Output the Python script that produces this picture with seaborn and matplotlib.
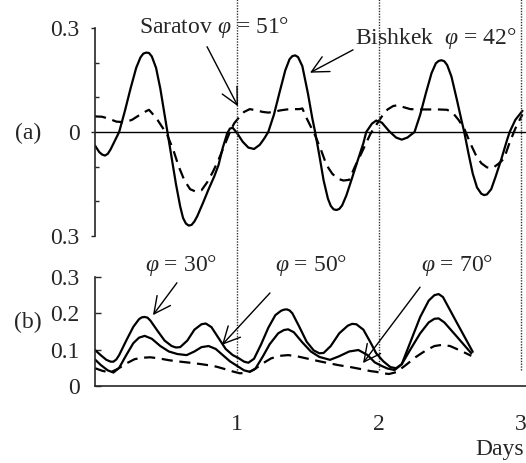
import matplotlib
matplotlib.use("Agg")
import matplotlib.pyplot as plt
import seaborn as sns
import numpy as np

# ---------------- data ----------------
# Panel (a): Bishkek (solid) and Saratov (dashed)
bishkek_days = [0.00, 0.03, 0.05, 0.07, 0.09, 0.11, 0.14, 0.17, 0.21, 0.25, 0.29, 0.32, 0.34, 0.36,
                0.38, 0.40, 0.43, 0.46, 0.49, 0.51, 0.54, 0.57, 0.60, 0.62, 0.64, 0.66, 0.68, 0.70,
                0.72, 0.76, 0.80, 0.84, 0.87, 0.90, 0.93, 0.95, 0.97, 1.00, 1.04, 1.08, 1.12, 1.16,
                1.19, 1.22, 1.26, 1.30, 1.34, 1.37, 1.39, 1.41, 1.43, 1.46, 1.50, 1.53, 1.55, 1.58,
                1.61, 1.64, 1.66, 1.68, 1.70, 1.72, 1.74, 1.77, 1.81, 1.85, 1.89, 1.91, 1.95, 1.98,
                2.02, 2.07, 2.12, 2.16, 2.20, 2.25, 2.29, 2.33, 2.37, 2.40, 2.42, 2.44, 2.46, 2.48,
                2.51, 2.55, 2.58, 2.60, 2.63, 2.66, 2.69, 2.72, 2.74, 2.76, 2.79, 2.82, 2.86, 2.90,
                2.92, 2.96, 3.01]
bishkek_vals = [-0.039, -0.058, -0.065, -0.068, -0.063, -0.050, -0.025, 0.000, 0.060, 0.125, 0.185,
                0.215, 0.226, 0.229, 0.228, 0.218, 0.185, 0.125, 0.050, 0.000, -0.075, -0.150,
                -0.215, -0.248, -0.264, -0.270, -0.268, -0.258, -0.243, -0.205, -0.165, -0.128,
                -0.095, -0.045, -0.005, 0.010, 0.012, -0.003, -0.028, -0.045, -0.049, -0.037,
                -0.020, 0.000, 0.050, 0.115, 0.178, 0.210, 0.219, 0.221, 0.216, 0.190, 0.110, 0.040,
                0.000, -0.068, -0.140, -0.192, -0.213, -0.223, -0.225, -0.222, -0.212, -0.183,
                -0.133, -0.082, -0.032, 0.000, 0.024, 0.033, 0.027, 0.003, -0.016, -0.022, -0.016,
                0.000, 0.050, 0.112, 0.170, 0.198, 0.205, 0.207, 0.204, 0.193, 0.160, 0.090, 0.035,
                0.000, -0.062, -0.120, -0.160, -0.178, -0.182, -0.180, -0.165, -0.130, -0.080,
                -0.025, 0.000, 0.035, 0.061]

saratov_days = [0.00, 0.05, 0.10, 0.15, 0.21, 0.26, 0.31, 0.36, 0.38, 0.40, 0.44, 0.48, 0.51, 0.55,
                0.59, 0.63, 0.67, 0.71, 0.75, 0.79, 0.83, 0.87, 0.91, 0.95, 0.98, 1.01, 1.05, 1.09,
                1.13, 1.18, 1.22, 1.26, 1.30, 1.35, 1.40, 1.44, 1.46, 1.49, 1.52, 1.55, 1.59, 1.63,
                1.67, 1.71, 1.75, 1.79, 1.83, 1.86, 1.90, 1.94, 1.98, 2.02, 2.06, 2.10, 2.13, 2.17,
                2.22, 2.28, 2.35, 2.42, 2.48, 2.52, 2.56, 2.60, 2.64, 2.68, 2.72, 2.76, 2.80, 2.84,
                2.88, 2.92, 2.96, 3.01]
saratov_vals = [0.045, 0.044, 0.038, 0.030, 0.028, 0.035, 0.048, 0.060, 0.064, 0.055, 0.035, 0.010,
                -0.010, -0.050, -0.100, -0.140, -0.165, -0.172, -0.168, -0.145, -0.115, -0.080,
                -0.040, 0.000, 0.025, 0.040, 0.058, 0.066, 0.063, 0.058, 0.056, 0.058, 0.062, 0.065,
                0.066, 0.066, 0.068, 0.040, 0.015, -0.010, -0.050, -0.095, -0.120, -0.135, -0.140,
                -0.138, -0.100, -0.075, -0.040, -0.005, 0.020, 0.045, 0.065, 0.075, 0.077, 0.072,
                0.066, 0.065, 0.065, 0.065, 0.064, 0.055, 0.035, 0.010, -0.030, -0.065, -0.090,
                -0.102, -0.104, -0.092, -0.077, -0.030, 0.010, 0.051]

# Panel (b): latitudes 30, 50 (solid) and 70 (dashed)
lat30_days = [0.00, 0.04, 0.08, 0.11, 0.13, 0.15, 0.17, 0.22, 0.27, 0.31, 0.33, 0.35, 0.37, 0.39,
              0.44, 0.49, 0.54, 0.57, 0.60, 0.65, 0.70, 0.75, 0.78, 0.82, 0.87, 0.92, 0.97, 1.01,
              1.05, 1.08, 1.12, 1.17, 1.22, 1.27, 1.31, 1.33, 1.35, 1.37, 1.39, 1.44, 1.49, 1.54,
              1.58, 1.61, 1.66, 1.72, 1.78, 1.81, 1.84, 1.89, 1.94, 1.98, 2.03, 2.08, 2.12, 2.16,
              2.22, 2.29, 2.35, 2.39, 2.42, 2.45, 2.54, 2.66]
lat30_vals = [0.099, 0.085, 0.072, 0.067, 0.067, 0.073, 0.085, 0.125, 0.163, 0.184, 0.189, 0.190,
              0.188, 0.180, 0.152, 0.125, 0.110, 0.106, 0.107, 0.125, 0.155, 0.170, 0.172, 0.162,
              0.132, 0.102, 0.085, 0.077, 0.067, 0.064, 0.075, 0.115, 0.160, 0.195, 0.207, 0.210,
              0.211, 0.208, 0.200, 0.162, 0.122, 0.098, 0.090, 0.091, 0.110, 0.145, 0.166, 0.171,
              0.170, 0.155, 0.120, 0.090, 0.068, 0.052, 0.049, 0.060, 0.120, 0.190, 0.235, 0.250,
              0.253, 0.245, 0.180, 0.094]

lat50_days = [0.00, 0.04, 0.09, 0.13, 0.17, 0.22, 0.27, 0.31, 0.35, 0.40, 0.46, 0.52, 0.58, 0.645,
              0.70, 0.75, 0.80, 0.85, 0.90, 0.95, 1.01, 1.05, 1.09, 1.13, 1.18, 1.23, 1.29, 1.33,
              1.36, 1.40, 1.46, 1.52, 1.58, 1.655, 1.72, 1.79, 1.855, 1.92, 1.97, 2.02, 2.06, 2.11,
              2.16, 2.22, 2.29, 2.35, 2.39, 2.42, 2.46, 2.55, 2.65]
lat50_vals = [0.073, 0.058, 0.043, 0.037, 0.050, 0.085, 0.118, 0.133, 0.138, 0.130, 0.110, 0.095,
              0.088, 0.085, 0.095, 0.107, 0.110, 0.102, 0.085, 0.068, 0.053, 0.043, 0.039, 0.048,
              0.080, 0.115, 0.145, 0.154, 0.156, 0.148, 0.120, 0.095, 0.080, 0.072, 0.082, 0.095,
              0.099, 0.085, 0.065, 0.055, 0.048, 0.044, 0.060, 0.100, 0.145, 0.175, 0.185, 0.186,
              0.175, 0.135, 0.090]

lat70_days = [0.00, 0.05, 0.105, 0.16, 0.22, 0.28, 0.34, 0.39, 0.45, 0.52, 0.60, 0.67, 0.75, 0.82,
              0.857, 0.92, 0.97, 1.02, 1.07, 1.12, 1.18, 1.24, 1.30, 1.36, 1.42, 1.50, 1.58, 1.655,
              1.72, 1.80, 1.88, 1.94, 1.98, 2.03, 2.07, 2.12, 2.18, 2.26, 2.33, 2.39, 2.44, 2.50,
              2.57, 2.65]
lat70_vals = [0.049, 0.042, 0.037, 0.047, 0.062, 0.074, 0.078, 0.079, 0.076, 0.071, 0.067, 0.064,
              0.060, 0.056, 0.053, 0.046, 0.040, 0.035, 0.036, 0.045, 0.062, 0.076, 0.083, 0.085,
              0.082, 0.075, 0.068, 0.062, 0.057, 0.052, 0.046, 0.041, 0.039, 0.035, 0.033, 0.038,
              0.055, 0.080, 0.098, 0.110, 0.113, 0.110, 0.098, 0.083]

day_lines = [1, 2, 3]
a_ticks = [-0.3, 0.0, 0.3]
a_ticklabels = ["0.3", "0", "0.3"]
b_ticks = [0.0, 0.1, 0.2, 0.3]
b_ticklabels = ["0", "0.1", "0.2", "0.3"]
x_ticklabels = ["1", "2", "3"]

# ---------------- style ----------------
sns.set_style("ticks")
plt.rcParams["font.family"] = ["Liberation Serif", "DejaVu Serif"]
plt.rcParams["mathtext.fontset"] = "custom"
plt.rcParams["mathtext.rm"] = "Liberation Serif"
plt.rcParams["mathtext.it"] = "Liberation Serif:italic"
FS = 17

fig = plt.figure(figsize=(5.26, 4.63), dpi=100)
W, H = 526.0, 463.0
XMAX = 3.035

axA = fig.add_axes([95 / W, (H - 236) / H, (W - 95) / W, 208 / H])
axB = fig.add_axes([95 / W, (H - 386) / H, (W - 95) / W, 109 / H])
for ax in (axA, axB):
    ax.set_facecolor("none")
    ax.set_xlim(0, XMAX)

LW = 1.6
DASH = (0, (5, 3))
line_kw = dict(color="black", lw=LW, estimator=None, sort=False,
               solid_joinstyle="round", dash_joinstyle="round", solid_capstyle="round")

# ---- panel (a)
sns.lineplot(x=bishkek_days, y=bishkek_vals, ax=axA, **line_kw)
sns.lineplot(x=saratov_days, y=saratov_vals, ax=axA, linestyle=DASH, **line_kw)
axA.axhline(0, color="black", lw=1.0)
axA.set_ylim(-0.3, 0.3)
for s in ("top", "right", "bottom"):
    axA.spines[s].set_visible(False)
axA.spines["left"].set_linewidth(1.2)
axA.set_xticks([])
axA.set_yticks(a_ticks)
axA.set_yticklabels(a_ticklabels, fontsize=FS)
axA.set_yticks(np.arange(-0.3, 0.31, 0.1), minor=True)
axA.tick_params(axis="y", which="both", direction="out", length=3, width=1.0, pad=8)
axA.tick_params(axis="y", which="minor", direction="in", length=3)

# dotted day separators spanning both panels
for d in day_lines:
    axA.axvline(d, ymin=-0.645, ymax=1.14, color="#333333", lw=1.0, linestyle=(0, (1, 1)),
                clip_on=False)

arrow = dict(arrowstyle="->,head_length=0.6,head_width=0.3", mutation_scale=20, lw=1.0,
             color="black", shrinkA=0, shrinkB=0)
axA.annotate("", xy=(1.007, 0.074), xytext=(0.789, 0.246), arrowprops=arrow, annotation_clip=False)
axA.text(0.31, 0.30, r"Saratov $\varphi$ = 51°", fontsize=FS, ha="left", va="center")
axA.annotate("", xy=(1.514, 0.171), xytext=(1.817, 0.237), arrowprops=arrow, annotation_clip=False)
axA.text(1.83, 0.271, r"Bishkek  $\varphi$ = 42°", fontsize=FS, ha="left", va="center")

# ---- panel (b)
sns.lineplot(x=lat30_days, y=lat30_vals, ax=axB, **line_kw)
sns.lineplot(x=lat50_days, y=lat50_vals, ax=axB, **line_kw)
sns.lineplot(x=lat70_days, y=lat70_vals, ax=axB, linestyle=DASH, **line_kw)
axB.set_ylim(0, 0.3)
for s in ("top", "right"):
    axB.spines[s].set_visible(False)
axB.spines["left"].set_linewidth(1.2)
axB.spines["bottom"].set_linewidth(1.2)
axB.set_yticks(b_ticks)
axB.set_yticklabels(b_ticklabels, fontsize=FS)
axB.tick_params(axis="y", direction="in", length=4, width=1.0, pad=11)
axB.set_xticks(day_lines)
axB.set_xticklabels(x_ticklabels, fontsize=FS)
axB.tick_params(axis="x", length=0, pad=20)

axB.annotate("", xy=(0.408, 0.195), xytext=(0.577, 0.284), arrowprops=arrow, annotation_clip=False)
axB.text(0.606, 0.333, r"$\varphi$ = 30°", fontsize=FS, ha="center", va="center")
axB.annotate("", xy=(0.894, 0.113), xytext=(1.232, 0.256), arrowprops=arrow, annotation_clip=False)
axB.text(1.52, 0.333, r"$\varphi$ = 50°", fontsize=FS, ha="center", va="center")
axB.annotate("", xy=(1.887, 0.063), xytext=(2.289, 0.272), arrowprops=arrow, annotation_clip=False)
axB.text(2.55, 0.333, r"$\varphi$ = 70°", fontsize=FS, ha="center", va="center")

# panel labels and axis title
fig.text(28 / W, (H - 133) / H, "(a)", fontsize=FS, ha="center", va="center")
fig.text(28 / W, (H - 322) / H, "(b)", fontsize=FS, ha="center", va="center")
fig.text(524 / W, (H - 450) / H, "Days", fontsize=FS, ha="right", va="center")

fig.savefig("out.png", dpi=100)
